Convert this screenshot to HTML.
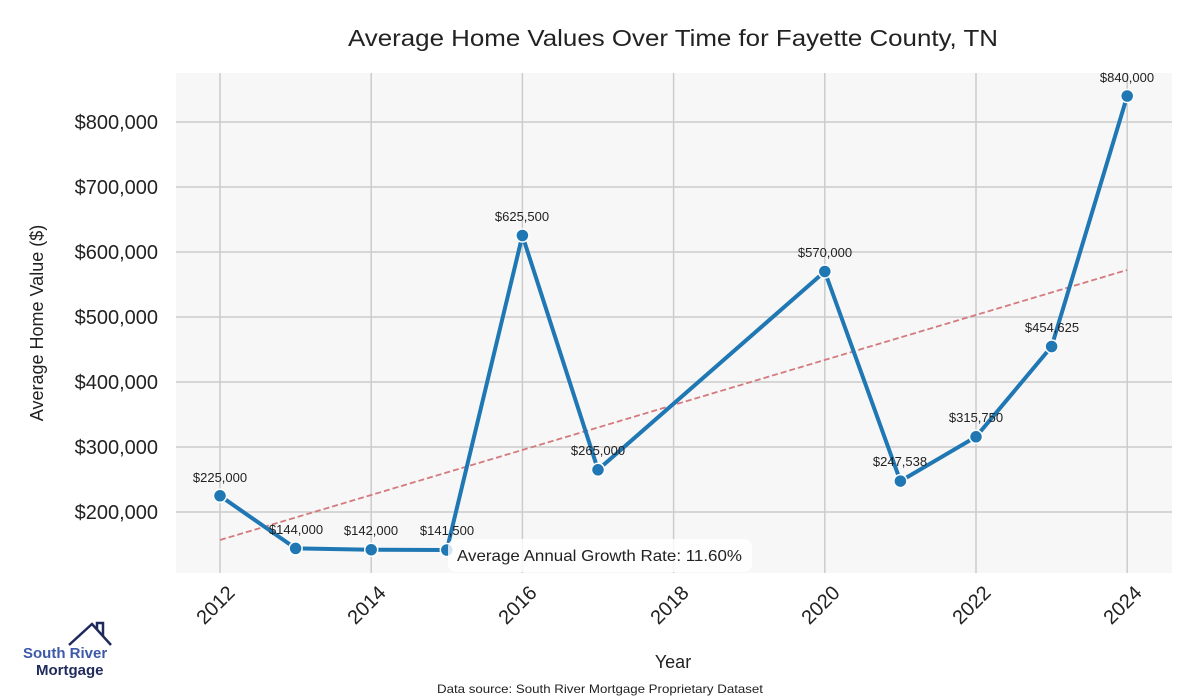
<!DOCTYPE html>
<html><head><meta charset="utf-8"><style>
html,body{margin:0;padding:0;background:#fff;}
svg{display:block;font-family:"Liberation Sans",sans-serif;}
</style></head><body>
<svg width="1200" height="700" viewBox="0 0 1200 700">
<rect x="176" y="73" width="996" height="500" fill="#f7f7f7"/>
<g stroke="#cccccc" stroke-width="1.5">
<line x1="220" y1="73" x2="220" y2="573"/><line x1="371.2" y1="73" x2="371.2" y2="573"/>
<line x1="522.4" y1="73" x2="522.4" y2="573"/><line x1="673.6" y1="73" x2="673.6" y2="573"/>
<line x1="824.8" y1="73" x2="824.8" y2="573"/><line x1="976" y1="73" x2="976" y2="573"/>
<line x1="1127.2" y1="73" x2="1127.2" y2="573"/>
<line x1="176" y1="122" x2="1172" y2="122"/><line x1="176" y1="187" x2="1172" y2="187"/>
<line x1="176" y1="252" x2="1172" y2="252"/><line x1="176" y1="317" x2="1172" y2="317"/>
<line x1="176" y1="382" x2="1172" y2="382"/><line x1="176" y1="447" x2="1172" y2="447"/>
<line x1="176" y1="512" x2="1172" y2="512"/>
</g>
<text x="348" y="46" textLength="650" lengthAdjust="spacingAndGlyphs" font-size="23" fill="#222">Average Home Values Over Time for Fayette County, TN</text>
<g font-size="20" fill="#222" text-anchor="end">
<text x="158" y="129">$800,000</text><text x="158" y="194">$700,000</text>
<text x="158" y="259">$600,000</text><text x="158" y="324">$500,000</text>
<text x="158" y="389">$400,000</text><text x="158" y="454">$300,000</text>
<text x="158" y="519">$200,000</text>
</g>
<text transform="translate(43,323) rotate(-90)" text-anchor="middle" font-size="18" fill="#222">Average Home Value ($)</text>
<g font-size="20" fill="#222" text-anchor="end">
<text transform="translate(236,594) rotate(-45)">2012</text>
<text transform="translate(387,594) rotate(-45)">2014</text>
<text transform="translate(538,594) rotate(-45)">2016</text>
<text transform="translate(690,594) rotate(-45)">2018</text>
<text transform="translate(841,594) rotate(-45)">2020</text>
<text transform="translate(992,594) rotate(-45)">2022</text>
<text transform="translate(1143,594) rotate(-45)">2024</text>
</g>
<text x="673" y="668" text-anchor="middle" font-size="18" fill="#222">Year</text>
<text x="437" y="693" textLength="326" lengthAdjust="spacingAndGlyphs" font-size="12" fill="#222">Data source: South River Mortgage Proprietary Dataset</text>
<line x1="220" y1="540" x2="1127" y2="270" stroke="#d47a7e" stroke-width="1.8" stroke-dasharray="6,3"/>
<polyline fill="none" stroke="#1f77b4" stroke-width="4" stroke-linejoin="round" points="220,495.8 295.6,548.4 371.2,549.7 446.8,550 522.4,235.5 598,469.8 824.8,271.5 900.4,481.1 976,436.8 1051.6,346.5 1127.2,96"/>
<g fill="#1f77b4" stroke="#fff" stroke-width="1.5">
<circle cx="220" cy="495.8" r="6.5"/><circle cx="295.6" cy="548.4" r="6.5"/><circle cx="371.2" cy="549.7" r="6.5"/>
<circle cx="446.8" cy="550" r="6.5"/><circle cx="522.4" cy="235.5" r="6.5"/><circle cx="598" cy="469.8" r="6.5"/>
<circle cx="824.8" cy="271.5" r="6.5"/><circle cx="900.4" cy="481.1" r="6.5"/><circle cx="976" cy="436.8" r="6.5"/>
<circle cx="1051.6" cy="346.5" r="6.5"/><circle cx="1127.2" cy="96" r="6.5"/>
</g>
<rect x="448" y="539" width="304" height="33" rx="8" fill="#fff" fill-opacity="0.8"/>
<text x="457" y="561" textLength="285" lengthAdjust="spacingAndGlyphs" font-size="16" fill="#222">Average Annual Growth Rate: 11.60%</text>
<g font-size="13" fill="#222" text-anchor="middle">
<text x="220" y="482">$225,000</text><text x="296" y="534">$144,000</text>
<text x="371" y="535">$142,000</text><text x="447" y="535">$141,500</text>
<text x="522" y="221">$625,500</text><text x="598" y="455">$265,000</text>
<text x="825" y="257">$570,000</text><text x="900" y="466">$247,538</text>
<text x="976" y="422">$315,750</text><text x="1052" y="332">$454,625</text>
<text x="1127" y="82">$840,000</text>
</g>
<polyline points="69,645 92,624 111,645" fill="none" stroke="#1f2a5c" stroke-width="2.5"/>
<polyline points="97,629 97,623 103,623 103,636" fill="none" stroke="#1f2a5c" stroke-width="2.5"/>
<text x="23" y="658" font-size="15" font-weight="bold" fill="#3d5aa8">South River</text>
<text x="36" y="675" font-size="15" font-weight="bold" fill="#1f2a5c">Mortgage</text>
</svg>
</body></html>
